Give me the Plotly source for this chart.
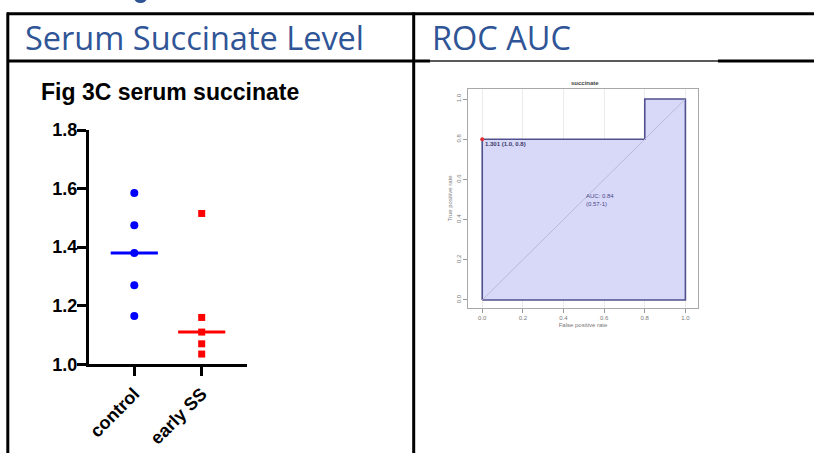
import numpy as np
import plotly.graph_objects as go

W, H = 814, 453

# ---------------- data ----------------
header_left = "Serum Succinate Level"
header_right = "ROC AUC"
scatter_title = "Fig 3C serum succinate"
groups = ["control", "early SS"]
control_vals = [1.585, 1.475, 1.38, 1.27, 1.165]
early_ss_vals = [1.515, 1.16, 1.11, 1.07, 1.035]
y_ticks = [1.0, 1.2, 1.4, 1.6, 1.8]

roc_title = "succinate"
roc_fpr = [0.0, 0.0, 0.8, 0.8, 1.0]
roc_tpr = [0.0, 0.8, 0.8, 1.0, 1.0]
roc_ticks = [0.0, 0.2, 0.4, 0.6, 0.8, 1.0]
roc_auc_text = ["AUC: 0.84", "(0.57-1)"]
best_point = (0.0, 0.8)
best_label = "1.301 (1.0, 0.8)"


def px(x):
    return x / W


def py(y):
    return 1 - y / H


fig = go.Figure()

# ---------------- left: dot plot ----------------
fig.add_trace(go.Scatter(
    x=[0] * len(control_vals), y=control_vals, mode="markers",
    marker=dict(symbol="circle", size=8, color="#0000FF"),
    xaxis="x", yaxis="y", showlegend=False, cliponaxis=False))
fig.add_trace(go.Scatter(
    x=[1] * len(early_ss_vals), y=early_ss_vals, mode="markers",
    marker=dict(symbol="square", size=7, color="#FF0000"),
    xaxis="x", yaxis="y", showlegend=False, cliponaxis=False))
hw = 0.35
for i, (vals, col) in enumerate([(control_vals, "#0000FF"), (early_ss_vals, "#FF0000")]):
    m = float(np.median(vals))
    fig.add_trace(go.Scatter(
        x=[i - hw, i + hw], y=[m, m], mode="lines",
        line=dict(color=col, width=3), xaxis="x", yaxis="y", showlegend=False))

# ---------------- right: ROC ----------------
fig.add_trace(go.Scatter(
    x=roc_fpr + [1.0, 0.0], y=roc_tpr + [0.0, 0.0], mode="lines",
    fill="toself", fillcolor="#D8D8F8",
    line=dict(color="#50508E", width=1.6),
    xaxis="x2", yaxis="y2", showlegend=False))
fig.add_trace(go.Scatter(
    x=[0, 1], y=[0, 1], mode="lines",
    line=dict(color="#B8B8D8", width=1),
    xaxis="x2", yaxis="y2", showlegend=False))
fig.add_trace(go.Scatter(
    x=[best_point[0]], y=[best_point[1]], mode="markers",
    marker=dict(color="#E03030", size=4),
    xaxis="x2", yaxis="y2", showlegend=False, cliponaxis=False))

# ---------------- layout ----------------
bold_font = dict(family="Liberation Sans, Arial", size=18, color="black", weight="bold")
small = dict(family="Liberation Sans, Arial", size=6, color="#777777")

fig.update_layout(
    width=W, height=H, autosize=False,
    margin=dict(l=0, r=0, t=0, b=0, pad=0, autoexpand=False),
    paper_bgcolor="white", plot_bgcolor="rgba(0,0,0,0)",
    xaxis=dict(domain=[px(89), px(247)], range=[-0.672, 1.672],
               tickvals=[0, 1], ticktext=groups, tickangle=-45,
               showline=True, linecolor="black", linewidth=3,
               ticks="outside", ticklen=9, tickwidth=3, tickcolor="black",
               tickfont=bold_font, showgrid=False, zeroline=False, anchor="y",
               automargin=False),
    yaxis=dict(domain=[py(364.3), py(130)], range=[1.0, 1.8],
               tickvals=y_ticks, tickformat=".1f",
               showline=True, linecolor="black", linewidth=3,
               ticks="outside", ticklen=9, tickwidth=3, tickcolor="black",
               tickfont=bold_font, showgrid=False, zeroline=False, anchor="x",
               automargin=False, ticklabelstandoff=-4),
    xaxis2=dict(domain=[px(468), px(698)], range=[-0.07, 1.062],
                tickvals=roc_ticks, tickformat=".1f",
                showline=True, mirror=True, linecolor="#A8A8A8", linewidth=1,
                ticks="outside", ticklen=4, tickcolor="#999999",
                tickfont=small, showgrid=True, gridcolor="#EBEBEB",
                zeroline=False, anchor="y2", automargin=False,
                title=dict(text="False positive rate", font=small, standoff=2)),
    yaxis2=dict(domain=[py(308), py(89)], range=[-0.04, 1.05],
                tickvals=roc_ticks, tickformat=".1f", tickangle=-90,
                showline=True, mirror=True, linecolor="#A8A8A8", linewidth=1,
                ticks="outside", ticklen=4, tickcolor="#999999",
                tickfont=small, showgrid=False, zeroline=False, anchor="x2",
                automargin=False,
                title=dict(text="True positive rate", font=small, standoff=2)),
)

# table lines
lines = [
    (7, 13.8, W, 13.8, 3, "black"),
    (7.8, 12.5, 7.8, H, 3, "black"),
    (413.7, 12.5, 413.7, H, 3, "black"),
    (7, 61, 430, 61, 3, "black"),
    (430, 61, 718, 61, 1.5, "#222222"),
    (718, 61, W, 61, 3, "black"),
]
for x0, y0, x1, y1, w, c in lines:
    fig.add_shape(type="line", xref="paper", yref="paper",
                  x0=px(x0), y0=py(y0), x1=px(x1), y1=py(y1),
                  line=dict(color=c, width=w))

# cut-off glyph at very top
fig.add_shape(type="circle", xref="paper", yref="paper",
              x0=px(134), x1=px(147), y0=py(-8), y1=py(3),
              fillcolor="#2F5597", line=dict(width=0))

header_font = dict(family="Open Sans", size=32.5, color="#2F5597")
fig.add_annotation(text=header_left, xref="paper", yref="paper",
                   x=px(23), y=py(38), xanchor="left", yanchor="middle",
                   showarrow=False, font=header_font)
fig.add_annotation(text=header_right, xref="paper", yref="paper",
                   x=px(430), y=py(38), xanchor="left", yanchor="middle",
                   showarrow=False, font=header_font)
fig.add_annotation(text=scatter_title, xref="paper", yref="paper",
                   x=px(39), y=py(92), xanchor="left", yanchor="middle",
                   showarrow=False,
                   font=dict(family="Liberation Sans, Arial", size=23, color="black", weight="bold"))

# ROC texts
fig.add_annotation(text=roc_title, xref="paper", yref="paper",
                   x=px(585), y=py(83), xanchor="center", yanchor="middle",
                   showarrow=False,
                   font=dict(family="Liberation Sans, Arial", size=6, color="#444444", weight="bold"))
fig.add_annotation(text=best_label, xref="x2", yref="y2",
                   x=best_point[0], y=best_point[1], xanchor="left", yanchor="top",
                   xshift=1, showarrow=False,
                   font=dict(family="Liberation Sans, Arial", size=6, color="#3A3A6A", weight="bold"))
fig.add_annotation(text="<br>".join(roc_auc_text), xref="x2", yref="y2",
                   x=0.5, y=0.5, xanchor="left", yanchor="middle", align="left",
                   showarrow=False,
                   font=dict(family="Liberation Sans, Arial", size=6, color="#4A4A8A"))

fig.write_html("out.html")
